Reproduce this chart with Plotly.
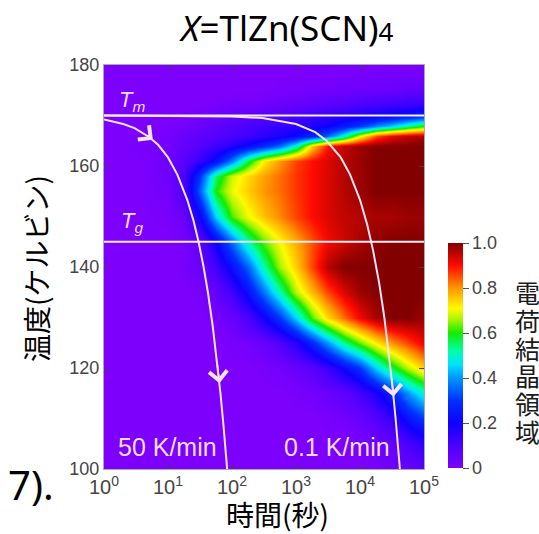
import math
import plotly.graph_objects as go

# ---------------- data ----------------
log_time_cols = [0, 0.5, 1.0, 1.25, 1.5, 1.75, 2.0, 2.25, 2.5, 2.75, 3.0,
                 3.25, 3.5, 3.75, 4.0, 4.25, 4.5, 4.75, 5.0]
temp_rows = [100, 105, 110, 115, 120, 125, 130, 135, 140, 145, 150,
             155, 158, 161, 164, 166, 168, 170, 172, 175, 180]
fraction = [
    [0, 0, 0, 0, 0, 0, 0, 0, 0, 0, 0, 0, 0, 0, 0, 0.01, 0.02, 0.04, 0.07],
    [0, 0, 0, 0, 0, 0, 0, 0, 0, 0, 0, 0, 0, 0, 0.01, 0.03, 0.05, 0.10, 0.15],
    [0, 0, 0, 0, 0, 0, 0, 0, 0, 0, 0, 0, 0.01, 0.02, 0.04, 0.08, 0.14, 0.23, 0.30],
    [0, 0, 0, 0, 0, 0, 0, 0, 0, 0, 0.01, 0.02, 0.04, 0.06, 0.11, 0.18, 0.27, 0.40, 0.50],
    [0, 0, 0, 0, 0, 0, 0, 0, 0.01, 0.02, 0.04, 0.07, 0.13, 0.21, 0.30, 0.45, 0.57, 0.67, 0.75],
    [0, 0, 0, 0, 0, 0, 0.01, 0.02, 0.04, 0.09, 0.16, 0.27, 0.40, 0.53, 0.63, 0.72, 0.80, 0.86, 0.92],
    [0, 0, 0, 0, 0, 0.01, 0.04, 0.10, 0.19, 0.30, 0.45, 0.62, 0.74, 0.83, 0.91, 0.97, 1.0, 1.0, 0.98],
    [0, 0, 0, 0, 0.01, 0.05, 0.12, 0.23, 0.37, 0.52, 0.67, 0.77, 0.86, 0.93, 0.98, 1.0, 1.0, 1.0, 1.0],
    [0, 0, 0, 0.01, 0.04, 0.12, 0.23, 0.35, 0.52, 0.66, 0.75, 0.86, 0.96, 1.0, 1.0, 1.0, 1.0, 1.0, 1.0],
    [0, 0, 0, 0.01, 0.06, 0.20, 0.36, 0.52, 0.63, 0.71, 0.78, 0.85, 0.91, 0.94, 0.97, 0.99, 1.0, 1.0, 1.0],
    [0, 0, 0.01, 0.04, 0.20, 0.45, 0.62, 0.70, 0.76, 0.81, 0.86, 0.90, 0.93, 0.95, 0.96, 0.97, 0.97, 0.98, 0.98],
    [0, 0, 0.02, 0.10, 0.35, 0.60, 0.70, 0.75, 0.80, 0.83, 0.87, 0.90, 0.93, 0.96, 0.98, 1.0, 1.0, 1.0, 1.0],
    [0, 0, 0.03, 0.10, 0.30, 0.55, 0.68, 0.74, 0.79, 0.83, 0.87, 0.90, 0.93, 0.96, 0.98, 1.0, 1.0, 1.0, 1.0],
    [0, 0, 0.03, 0.07, 0.14, 0.23, 0.38, 0.57, 0.72, 0.80, 0.86, 0.90, 0.93, 0.96, 0.98, 1.0, 1.0, 1.0, 1.0],
    [0, 0.01, 0.02, 0.05, 0.08, 0.12, 0.17, 0.22, 0.28, 0.36, 0.50, 0.75, 0.90, 0.95, 0.98, 1.0, 1.0, 1.0, 1.0],
    [0, 0, 0.02, 0.04, 0.06, 0.08, 0.10, 0.12, 0.15, 0.18, 0.22, 0.27, 0.35, 0.50, 0.70, 0.85, 0.92, 0.95, 0.97],
    [0, 0, 0.01, 0.02, 0.04, 0.06, 0.08, 0.10, 0.12, 0.14, 0.15, 0.18, 0.20, 0.25, 0.30, 0.38, 0.45, 0.53, 0.60],
    [0, 0, 0, 0.01, 0.02, 0.03, 0.05, 0.06, 0.07, 0.08, 0.10, 0.12, 0.14, 0.16, 0.18, 0.20, 0.22, 0.25, 0.28],
    [0, 0, 0, 0, 0, 0.01, 0.02, 0.02, 0.03, 0.04, 0.05, 0.06, 0.07, 0.08, 0.10, 0.11, 0.12, 0.13, 0.14],
    [0, 0, 0, 0, 0, 0, 0, 0, 0, 0.01, 0.01, 0.02, 0.02, 0.03, 0.03, 0.04, 0.04, 0.05, 0.05],
    [0] * 19,
]

T_MELT = 170
T_GLASS = 145

fast_time = [1, 2, 3, 5, 7, 10, 14, 20, 25, 30, 36, 42, 50, 58, 66, 74, 80, 84]
fast_temp = [169.2, 168.3, 167.5, 165.8, 164.2, 161.7, 158.3, 153.3, 149.2, 145.0,
             140.0, 135.0, 128.3, 121.7, 115.0, 108.3, 103.3, 100.0]
slow_time = [1, 100, 300, 1000, 2000, 3000, 5000, 7000, 10000, 13000, 16000,
             20000, 24000, 28000, 32000, 36000, 40000, 42000]
slow_temp = [170, 169.8, 169.5, 168.3, 166.7, 165.0, 161.7, 158.3, 153.3, 148.3,
             143.3, 136.7, 130.0, 123.3, 116.7, 110.0, 103.3, 100.0]

# arrow heads (time, temp) and their tails along the curves
arrow_head_t = [5.8, 63.6, 4400, 33400]
arrow_head_T = [165.2, 117.0, 162.7, 114.3]
arrow_tail_t = [4.6, 58.8, 3700, 31000]
arrow_tail_T = [166.2, 121.0, 163.8, 118.3]

x_tick_vals = [1, 10, 100, 1000, 10000, 100000]
x_tick_text = ["10<sup>0</sup>", "10<sup>1</sup>", "10<sup>2</sup>",
               "10<sup>3</sup>", "10<sup>4</sup>", "10<sup>5</sup>"]
y_tick_vals = [100, 120, 140, 160, 180]
cb_tick_vals = [0, 0.2, 0.4, 0.6, 0.8, 1.0]
cb_tick_text = ["0", "0.2", "0.4", "0.6", "0.8", "1.0"]

time_cols = [10 ** v for v in log_time_cols]

# ---------------- figure ----------------
colorscale = [
    [0.00, "rgb(125,0,252)"],
    [0.10, "rgb(75,0,255)"],
    [0.20, "rgb(15,0,255)"],
    [0.30, "rgb(0,50,255)"],
    [0.40, "rgb(0,150,255)"],
    [0.46, "rgb(0,225,255)"],
    [0.52, "rgb(0,255,170)"],
    [0.60, "rgb(20,235,0)"],
    [0.66, "rgb(170,245,0)"],
    [0.71, "rgb(255,250,0)"],
    [0.80, "rgb(255,150,0)"],
    [0.90, "rgb(255,10,0)"],
    [1.00, "rgb(130,0,0)"],
]

L, R, T, B = 104, 115, 65, 65
W, H = 539, 534
PW, PH = W - L - R, H - T - B


def px(xp):
    return (xp - L) / PW


def py(yp):
    return (H - B - yp) / PH


def label(xp, yp, text, size, color, family="Liberation Sans", **kw):
    opts = dict(x=px(xp), y=py(yp), xref="paper", yref="paper",
                xanchor="center", yanchor="middle", text=text, showarrow=False,
                font=dict(family=family, size=size, color=color))
    opts.update(kw)
    fig.add_annotation(**opts)


fig = go.Figure()
fig.add_trace(go.Heatmap(
    x=time_cols, y=temp_rows, z=fraction,
    zmin=0, zmax=1, zsmooth="best", colorscale=colorscale,
    colorbar=dict(
        x=px(448), xanchor="left", xpad=0,
        y=py(468), yanchor="bottom", ypad=0,
        len=225 / PH, lenmode="fraction", thickness=15,
        outlinewidth=0,
        tickvals=cb_tick_vals, ticktext=cb_tick_text,
        ticks="outside", ticklen=6, tickcolor="#555",
        tickfont=dict(family="Liberation Sans", size=18, color="#444"),
    ),
    hoverinfo="skip",
))

curve_color = "rgb(246,228,246)"
for tt, TT in ((fast_time, fast_temp), (slow_time, slow_temp)):
    fig.add_trace(go.Scatter(x=tt, y=TT, mode="lines",
                             line=dict(color=curve_color, width=2),
                             showlegend=False, hoverinfo="skip"))

for Tv in (T_MELT, T_GLASS):
    fig.add_shape(type="line", xref="paper", x0=0, x1=1, yref="y", y0=Tv, y1=Tv,
                  line=dict(color="rgb(248,238,248)", width=2.2))

for ht, hT, tt, tT in zip(arrow_head_t, arrow_head_T, arrow_tail_t, arrow_tail_T):
    fig.add_annotation(x=math.log10(ht), y=hT, ax=math.log10(tt), ay=tT,
                       xref="x", yref="y", axref="x", ayref="y",
                       text="", showarrow=True, arrowhead=4, arrowsize=2.2,
                       arrowwidth=1.6, arrowcolor=curve_color)

lab_color = "rgb(245,222,248)"
label(132, 101, "<i>T</i><sub><i>m</i></sub>", 22, lab_color)
label(132, 222, "<i>T</i><sub><i>g</i></sub>", 22, lab_color)
label(167, 447, "50 K/min", 25, lab_color)
label(337, 447, "0.1 K/min", 25, lab_color)

# title and axis labels
label(286, 28, "<i>X</i>=TlZn(SCN)<span style='font-size:26px'>4</span>",
      35, "black", family="Noto Sans")
label(277, 514, "時間(秒)", 28, "black", family="Noto Sans CJK JP")
label(36, 269, "温度(ケルビン)", 28, "black", family="Noto Sans CJK JP",
      textangle=-90)
label(56, 484, "7).", 40, "black", family="Noto Sans", xanchor="right")

cb_title = "電荷結晶領域"
for i, ch in enumerate(cb_title):
    label(527, 292 + i * 27.8, ch, 25, "#1a1a1a", family="Noto Sans CJK JP")

fig.update_layout(
    width=W, height=H,
    margin=dict(l=L, r=R, t=T, b=B),
    paper_bgcolor="white", plot_bgcolor="white",
    showlegend=False,
    xaxis=dict(type="log", range=[0, 5], tickvals=x_tick_vals, ticktext=x_tick_text,
               ticks="inside", ticklen=5, tickcolor="#444", showline=True,
               linecolor="#aaa", mirror="ticks", showgrid=False, zeroline=False,
               tickfont=dict(family="Liberation Sans", size=20, color="#444")),
    yaxis=dict(range=[100, 180], tickvals=y_tick_vals,
               ticks="inside", ticklen=5, tickcolor="#444", showline=True,
               linecolor="#aaa", mirror="ticks", showgrid=False, zeroline=False,
               tickfont=dict(family="Liberation Sans", size=18, color="#444")),
)

fig.write_html("out.html")
